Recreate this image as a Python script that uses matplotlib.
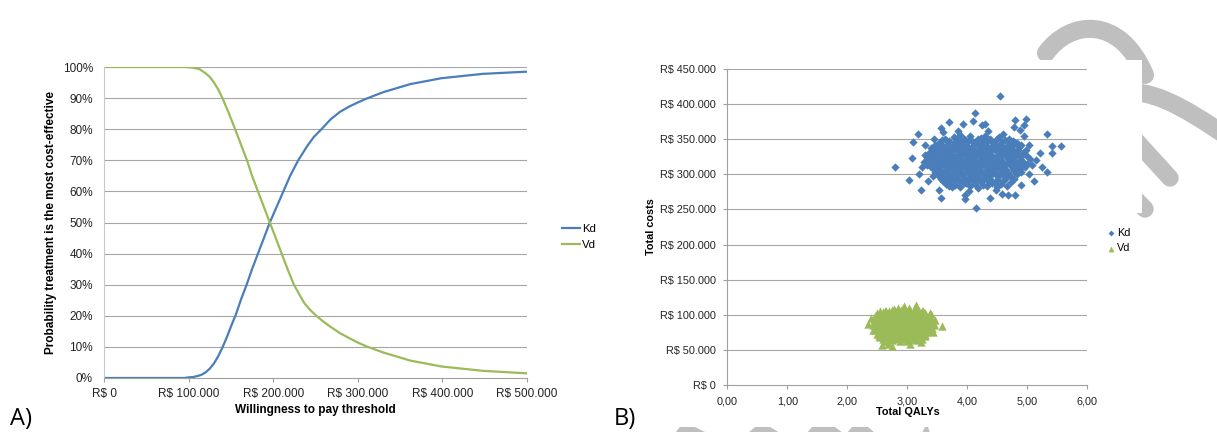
import matplotlib
matplotlib.use("Agg")
import matplotlib.pyplot as plt
from matplotlib.path import Path
from matplotlib.patches import PathPatch, Rectangle, Polygon

plt.rcParams['font.family'] = ['Liberation Sans', 'DejaVu Sans']

# ---- data: cost-effectiveness acceptability curve (A) ----
kd_wtp = [0, 50000, 95000, 100000, 105000, 110000, 115000, 120000, 125000, 130000,
          135000, 140000, 145000, 150000, 156000, 162000, 168600, 175000, 182000,
          189000, 196000, 204000, 212000, 220000, 229600, 240000, 248000, 257000,
          268000, 279000, 290000, 300000, 310000, 330000, 362000, 399000, 448000, 500000]
kd_prob = [0, 0, 0, 0.2, 0.3, 0.6, 1.0, 1.8, 3.0, 4.7,
           7.0, 9.8, 13, 16.5, 20.5, 25.3, 30, 35, 40,
           45, 50, 55, 60, 65, 70, 74.5, 77.5, 80,
           83.2, 85.6, 87.3, 88.6, 89.8, 91.9, 94.5, 96.4, 97.8, 98.5]

vd_wtp = [0, 50000, 95000, 105000, 113000, 120000, 125000, 130000, 135000, 140000,
          147000, 155000, 162000, 169000, 175000, 182000, 189000, 196000, 203000,
          210000, 217000, 224500, 231000, 237000, 244000, 251000, 259000, 267000,
          279000, 290000, 300000, 310000, 330000, 362000, 399000, 448000, 500000]
vd_prob = [100, 100, 100, 99.8, 99.3, 98, 96.8, 95, 92.8, 90,
           85.5, 80, 75, 70, 65, 60, 55, 50, 45,
           40, 35, 30, 26.8, 24, 21.8, 20, 18.2, 16.6,
           14.4, 12.8, 11.4, 10.2, 8.2, 5.6, 3.7, 2.3, 1.5]

wtp_ticks = [0, 100000, 200000, 300000, 400000, 500000]
wtp_labels = ["R$ 0", "R$ 100.000", "R$ 200.000", "R$ 300.000", "R$ 400.000", "R$ 500.000"]
prob_ticks = [0, 10, 20, 30, 40, 50, 60, 70, 80, 90, 100]
prob_labels = ["0%", "10%", "20%", "30%", "40%", "50%", "60%", "70%", "80%", "90%", "100%"]

# ---- data: cost-effectiveness plane (B), costs in R$ 1000 ----
kd_qaly = [
    3.62, 3.78, 3.95, 4.05, 4.22, 4.38, 4.52, 4.70, 3.88, 4.30,
    3.52, 3.66, 3.80, 3.90, 4.01, 4.12, 4.24, 4.33, 4.45, 4.58, 4.69, 4.82,
    3.40, 3.50, 3.62, 3.73, 3.84, 3.95, 4.06, 4.17, 4.28, 4.39, 4.50, 4.61, 4.72, 4.86,
    3.36, 3.47, 3.58, 3.69, 3.80, 3.91, 4.02, 4.13, 4.24, 4.35, 4.46, 4.57, 4.68, 4.79, 4.92,
    3.33, 3.44, 3.55, 3.66, 3.77, 3.88, 3.99, 4.10, 4.21, 4.32, 4.43, 4.54, 4.65, 4.76, 4.88, 5.00,
    3.38, 3.49, 3.60, 3.71, 3.82, 3.93, 4.04, 4.15, 4.26, 4.37, 4.48, 4.59, 4.70, 4.81, 4.93,
    3.40, 3.51, 3.62, 3.73, 3.84, 3.95, 4.06, 4.17, 4.28, 4.39, 4.50, 4.61, 4.72, 4.84, 4.96,
    3.46, 3.57, 3.68, 3.79, 3.90, 4.01, 4.12, 4.23, 4.34, 4.45, 4.56, 4.67, 4.78, 4.90,
    3.52, 3.63, 3.74, 3.85, 3.96, 4.07, 4.18, 4.29, 4.40, 4.51, 4.62, 4.75,
    3.60, 3.72, 3.86, 3.98, 4.10, 4.22, 4.34, 4.46, 4.60, 4.72,
    3.70, 3.88, 4.05, 4.18, 4.32, 4.50, 4.66,
    3.58, 3.70, 3.84, 3.96, 4.08, 4.18, 4.28, 4.40, 4.50, 4.62, 4.76,
    3.46, 3.56, 3.67, 3.78, 3.89, 4.00, 4.11, 4.22, 4.33, 4.44, 4.55, 4.66, 4.78, 4.90,
    3.42, 3.53, 3.64, 3.75, 3.86, 3.97, 4.08, 4.19, 4.30, 4.41, 4.52, 4.63, 4.74, 4.85, 4.97,
    3.30, 3.41, 3.52, 3.63, 3.74, 3.85, 3.96, 4.07, 4.18, 4.29, 4.40, 4.51, 4.62, 4.73, 4.84, 4.95,
    3.35, 3.46, 3.57, 3.68, 3.79, 3.90, 4.01, 4.12, 4.23, 4.34, 4.45, 4.56, 4.67, 4.78, 4.90, 5.04,
    3.33, 3.44, 3.55, 3.66, 3.77, 3.88, 3.99, 4.10, 4.21, 4.32, 4.43, 4.54, 4.65, 4.76, 4.87, 4.99,
    3.44, 3.55, 3.66, 3.77, 3.88, 3.99, 4.10, 4.21, 4.32, 4.43, 4.54, 4.65, 4.76, 4.88,
    3.49, 3.60, 3.71, 3.82, 3.93, 4.04, 4.15, 4.26, 4.37, 4.48, 4.59, 4.70, 4.83,
    3.56, 3.67, 3.80, 3.92, 4.03, 4.14, 4.26, 4.38, 4.50, 4.62, 4.78,
    3.64, 3.79, 3.94, 4.12, 4.26, 4.41, 4.56,
    4.55, 4.12, 4.09, 3.70, 3.92, 4.80, 4.97, 4.94, 3.18, 3.09, 3.30, 3.56, 5.33, 5.41,
    5.56, 5.41, 2.80, 3.07, 3.02, 3.23, 3.56, 3.96, 3.96, 4.14, 4.37, 4.68, 4.80, 4.57,
    5.11, 5.32, 5.21, 5.07, 4.87, 4.78, 4.24, 3.38, 3.24, 3.43, 3.74, 3.20, 3.28, 5.15,
    5.25, 5.02, 4.95, 3.60, 3.85, 4.35, 4.60, 3.35, 3.52, 4.48, 4.02, 4.90, 5.03, 4.30, 3.45,
]
kd_cost = [
    351, 353, 350, 354, 352, 351, 353, 350, 356, 355,
    345, 347, 346, 344, 348, 346, 345, 347, 344, 346, 348, 345,
    338, 340, 339, 337, 341, 339, 338, 340, 339, 337, 341, 338, 340, 339,
    331, 333, 332, 330, 334, 332, 331, 333, 330, 332, 334, 331, 333, 332, 330,
    325, 324, 326, 325, 323, 326, 324, 325, 327, 324, 325, 323, 326, 324, 325, 326,
    318, 317, 319, 318, 316, 319, 317, 318, 320, 317, 318, 316, 319, 317, 318,
    311, 310, 312, 311, 309, 312, 310, 311, 313, 310, 311, 309, 312, 310, 311,
    304, 303, 305, 304, 302, 305, 303, 304, 306, 303, 304, 302, 305, 303,
    297, 296, 298, 297, 295, 298, 296, 297, 299, 296, 297, 295,
    290, 289, 291, 288, 290, 289, 291, 288, 290, 289,
    283, 282, 284, 281, 283, 282, 284,
    349, 348, 350, 349, 348, 350, 349, 348, 350, 349, 348,
    342, 343, 341, 343, 342, 341, 343, 342, 341, 343, 342, 341, 343, 342,
    335, 336, 334, 336, 335, 334, 336, 335, 334, 336, 335, 334, 336, 335, 334,
    328, 329, 327, 329, 328, 327, 329, 328, 327, 329, 328, 327, 329, 328, 327, 329,
    321, 322, 320, 322, 321, 320, 322, 321, 320, 322, 321, 320, 322, 321, 320, 322,
    314, 315, 313, 315, 314, 313, 315, 314, 313, 315, 314, 313, 315, 314, 313, 315,
    307, 308, 306, 308, 307, 306, 308, 307, 306, 308, 307, 306, 308, 307,
    300, 301, 299, 301, 300, 299, 301, 300, 299, 301, 300, 299, 301,
    293, 294, 292, 294, 293, 292, 294, 293, 292, 294, 293,
    286, 285, 287, 286, 285, 287, 286,
    412, 388, 376, 374, 372, 378, 379, 370, 357, 346, 342, 366, 357, 340,
    340, 331, 311, 323, 292, 277, 266, 271, 265, 252, 266, 271, 271, 272,
    291, 304, 330, 313, 363, 368, 370, 325, 310, 297, 282, 300, 318, 320,
    310, 342, 355, 360, 362, 362, 358, 290, 278, 278, 276, 285, 300, 372, 350,
]

vd_qaly = [
    2.62, 2.78, 2.90, 3.02, 3.12, 3.26, 2.70, 3.18,
    2.50, 2.60, 2.70, 2.80, 2.90, 3.00, 3.10, 3.20, 3.30,
    2.46, 2.56, 2.66, 2.76, 2.86, 2.96, 3.06, 3.16, 3.26, 3.36,
    2.45, 2.55, 2.65, 2.75, 2.85, 2.95, 3.05, 3.15, 3.25, 3.35,
    2.44, 2.54, 2.64, 2.74, 2.84, 2.94, 3.04, 3.14, 3.24, 3.34, 3.44,
    2.47, 2.57, 2.67, 2.77, 2.87, 2.97, 3.07, 3.17, 3.27, 3.37,
    2.46, 2.56, 2.66, 2.76, 2.86, 2.96, 3.06, 3.16, 3.26, 3.36,
    2.50, 2.60, 2.70, 2.80, 2.90, 3.00, 3.10, 3.20, 3.30,
    2.55, 2.66, 2.77, 2.88, 2.99, 3.10, 3.21,
    2.62, 2.75, 2.88, 3.00, 3.14,
    2.55, 2.65, 2.75, 2.85, 2.95, 3.05, 3.15, 3.25,
    2.51, 2.61, 2.71, 2.81, 2.91, 3.01, 3.11, 3.21, 3.31, 3.40,
    2.50, 2.60, 2.70, 2.80, 2.90, 3.00, 3.10, 3.20, 3.30, 3.40,
    2.49, 2.59, 2.69, 2.79, 2.89, 2.99, 3.09, 3.19, 3.29, 3.39,
    2.42, 2.52, 2.62, 2.72, 2.82, 2.92, 3.02, 3.12, 3.22, 3.32, 3.45,
    2.51, 2.61, 2.71, 2.81, 2.91, 3.01, 3.11, 3.21, 3.31, 3.41,
    2.53, 2.63, 2.73, 2.83, 2.93, 3.03, 3.13, 3.23, 3.33,
    2.52, 2.62, 2.72, 2.82, 2.92, 3.02, 3.12, 3.22, 3.30,
    2.60, 2.71, 2.82, 2.93, 3.04, 3.15, 3.25,
    2.35, 3.57, 3.14, 2.58, 2.74, 3.22, 2.95, 2.40, 2.42, 3.46, 2.68, 3.42, 3.05, 2.85, 3.38,
]
vd_cost = [
    106, 108, 107, 109, 110, 106, 105, 104,
    102, 104, 103, 105, 102, 104, 103, 105, 102,
    98, 97, 99, 98, 97, 99, 98, 97, 99, 98,
    93, 94, 92, 93, 94, 92, 93, 94, 92, 93,
    88, 87, 89, 88, 87, 89, 88, 87, 89, 88, 87,
    83, 84, 82, 83, 84, 82, 83, 84, 82, 83,
    78, 77, 79, 78, 77, 79, 78, 77, 79, 78,
    73, 74, 72, 73, 74, 72, 73, 74, 72,
    68, 67, 69, 68, 67, 69, 68,
    63, 64, 62, 63, 64,
    105, 106, 107, 106, 108, 107, 106, 105,
    100, 101, 100, 101, 100, 101, 100, 101, 100, 101,
    95, 96, 95, 96, 95, 96, 95, 96, 95, 96,
    90, 91, 90, 91, 90, 91, 90, 91, 90, 91,
    85, 86, 85, 86, 85, 86, 85, 86, 85, 86, 85,
    80, 81, 80, 81, 80, 81, 80, 81, 80, 81,
    75, 76, 75, 76, 75, 76, 75, 76, 75,
    70, 71, 70, 71, 70, 71, 70, 71, 70,
    65, 66, 65, 66, 65, 66, 65,
    87, 84, 114, 57, 55, 61, 112, 95, 78, 92, 58, 76, 58, 110, 102,
]

qaly_ticks = [0, 1, 2, 3, 4, 5, 6]
qaly_labels = ["0,00", "1,00", "2,00", "3,00", "4,00", "5,00", "6,00"]
cost_ticks = [0, 50000, 100000, 150000, 200000, 250000, 300000, 350000, 400000, 450000]
cost_labels = ["R$ 0", "R$ 50.000", "R$ 100.000", "R$ 150.000", "R$ 200.000",
               "R$ 250.000", "R$ 300.000", "R$ 350.000", "R$ 400.000", "R$ 450.000"]

BLUE = "#4a7ebb"
GREEN = "#9bbb59"
GRID = "#a6a6a6"
AXIS = "#a0a0a0"
DECO = "#bfbfbf"

W, H = 1217, 432
fig = plt.figure(figsize=(W / 100, H / 100), dpi=100)
fig.patch.set_facecolor("white")

# background decoration in pixel coordinates
deco = fig.add_axes([0, 0, 1, 1], zorder=-5)
deco.set_xlim(0, W)
deco.set_ylim(H, 0)
deco.axis("off")
arcs = [
    [(1046, 53), (1070, 20), (1120, 15), (1145, 75)],
    [(1120, 92), (1150, 90), (1175, 100), (1235, 142)],
]
for pts in arcs:
    p = Path(pts, [Path.MOVETO, Path.CURVE4, Path.CURVE4, Path.CURVE4])
    deco.add_patch(PathPatch(p, fill=False, edgecolor=DECO, lw=13, capstyle="round"))
deco.plot([1118, 1170], [121, 178], color=DECO, lw=12.5, solid_capstyle="round")
deco.plot([1118, 1145], [181, 209], color=DECO, lw=12.5, solid_capstyle="round")
deco.add_patch(Rectangle((600, 60), 1141.5 - 600, 153, facecolor="white", edgecolor="none", zorder=5))
for x0, x1, t0, t1 in [(675, 707, 680, 695), (748, 780, 755, 770), (807, 843, 812, 835),
                       (847, 875, 852, 868), (922, 930, 925, 928)]:
    deco.add_patch(Polygon([(x0, 433), (t0, 427), (t1, 427), (x1, 433)], closed=True,
                           facecolor=DECO, edgecolor="none"))

# ---- panel A ----
axA = fig.add_axes([104 / W, 1 - 378 / H, 423 / W, 311 / H])
axA.plot(kd_wtp, [v / 100 for v in kd_prob], color=BLUE, lw=1.6, label="Kd")
axA.plot(vd_wtp, [v / 100 for v in vd_prob], color=GREEN, lw=1.6, label="Vd")
axA.set_xlim(0, 500000)
axA.set_ylim(0, 1)
axA.set_xticks(wtp_ticks)
axA.set_xticklabels(wtp_labels)
axA.set_yticks([t / 100 for t in prob_ticks])
axA.set_yticklabels(prob_labels)
for t in prob_ticks[1:]:
    axA.axhline(t / 100, color=GRID, lw=0.8, zorder=0)
for s in ["top", "right"]:
    axA.spines[s].set_visible(False)
axA.spines["left"].set_color("#c8c8c8")
axA.spines["bottom"].set_color(AXIS)
axA.tick_params(axis="x", direction="out", length=3, color=AXIS, labelsize=8.5, pad=4, labelcolor="#222222")
axA.tick_params(axis="y", length=0, labelsize=8.5, pad=8, labelcolor="#222222")
axA.set_xlabel("Willingness to pay threshold", fontsize=8.5, fontweight="bold")
axA.xaxis.set_label_coords(0.5, -0.085)
axA.set_ylabel("Probability treatment is the most cost-effective", fontsize=8.5, fontweight="bold")
axA.yaxis.set_label_coords(-0.11, 0.5)
axA.legend(loc="upper left", bbox_to_anchor=(562 / W, 1 - 224 / H), bbox_transform=fig.transFigure,
           frameon=False, fontsize=8.2, handlelength=1.6, handletextpad=0.15,
           labelspacing=0.55, borderpad=0, borderaxespad=0)

# ---- panel B ----
axB = fig.add_axes([727.3 / W, 1 - 385 / H, 360 / W, 316 / H])
axB.scatter(kd_qaly, [c * 1000 for c in kd_cost], marker="D", s=18, color=BLUE,
            linewidths=0, label="Kd", zorder=3)
axB.scatter(vd_qaly, [c * 1000 for c in vd_cost], marker="^", s=36, color=GREEN,
            linewidths=0, label="Vd", zorder=3)
axB.set_xlim(0, 6)
axB.set_ylim(0, 450000)
axB.set_xticks(qaly_ticks)
axB.set_xticklabels(qaly_labels)
axB.set_yticks(cost_ticks)
axB.set_yticklabels(cost_labels)
for t in cost_ticks[1:]:
    axB.axhline(t, color=GRID, lw=0.8, zorder=0)
for s in ["top", "right"]:
    axB.spines[s].set_visible(False)
axB.spines["left"].set_color(AXIS)
axB.spines["bottom"].set_color(AXIS)
axB.tick_params(axis="both", direction="out", length=3, color=AXIS, labelsize=7.8, pad=5, labelcolor="#222222")
axB.set_xlabel("Total QALYs", fontsize=7.8, fontweight="bold")
axB.xaxis.set_label_coords(0.502, -0.07)
axB.set_ylabel("Total costs", fontsize=7.8, fontweight="bold")
axB.yaxis.set_label_coords(-0.197, 0.5)
axB.legend(loc="upper left", bbox_to_anchor=(1107 / W, 1 - 228 / H), bbox_transform=fig.transFigure,
           frameon=False, fontsize=7.8, handlelength=0.8, handletextpad=0.1,
           labelspacing=0.5, borderpad=0, borderaxespad=0, markerscale=0.7, scatterpoints=1)

fig.text(10 / W, 1 - 419 / H, "A)", fontsize=17, family=["Open Sans", "DejaVu Sans"], va="center", ha="left")
fig.text(614 / W, 1 - 419 / H, "B)", fontsize=17, family=["Open Sans", "DejaVu Sans"], va="center", ha="left")

fig.savefig("out.png", dpi=100, facecolor="white")
